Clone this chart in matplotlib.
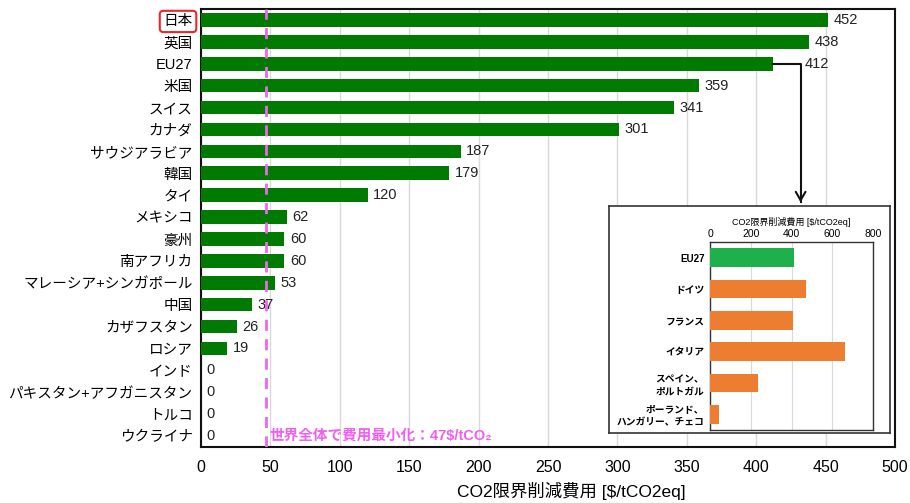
import matplotlib
matplotlib.use("Agg")
import matplotlib.pyplot as plt

plt.rcParams['font.family'] = ['Liberation Sans', 'Noto Sans CJK JP', 'DejaVu Sans']

countries = ['日本', '英国', 'EU27', '米国', 'スイス', 'カナダ', 'サウジアラビア', '韓国',
             'タイ', 'メキシコ', '豪州', '南アフリカ', 'マレーシア+シンガポール', '中国',
             'カザフスタン', 'ロシア', 'インド', 'パキスタン+アフガニスタン', 'トルコ', 'ウクライナ']
costs = [452, 438, 412, 359, 341, 301, 187, 179, 120, 62, 60, 60, 53, 37, 26, 19, 0, 0, 0, 0]
world_min = 47

eu_members = ['EU27', 'ドイツ', 'フランス', 'イタリア', 'スペイン、\nポルトガル', 'ポーランド、\nハンガリー、チェコ']
eu_costs = [410, 469, 407, 663, 238, 44]

fig = plt.figure(figsize=(9.10, 5.03), dpi=100)
ax = fig.add_axes([201/910, 1 - 447/503, 694/910, 438/503])

# x position where the EU27 connector turns down
elbow_x = 432

y = list(range(len(countries)))
ax.barh(y, costs, height=0.62, color='#007a00', zorder=3)
for yi, (name, v) in enumerate(zip(countries, costs)):
    lx = elbow_x + 3 if name == 'EU27' else v + 4
    ax.text(lx, yi, f'{v}', va='center', ha='left', fontsize=10.5, color='#222222', zorder=4)

ax.set_xlim(0, 500)
ax.set_ylim(len(countries) - 0.5, -0.5)
ax.set_yticks(y)
ax.set_yticklabels(countries, fontsize=10.5)
ax.tick_params(axis='y', length=0, pad=6)
ax.set_xticks(range(0, 501, 50))
ax.tick_params(axis='x', length=0, labelsize=11.5, pad=9)
ax.grid(axis='x', color='#d9d9d9', linewidth=1, zorder=0)
for s in ax.spines.values():
    s.set_linewidth(1.5)
    s.set_color('#111111')

# world-wide cost-minimum line
ax.axvline(world_min, color='#ee66ee', linestyle=(0, (4, 3)), linewidth=2, zorder=5)
ax.text(world_min + 2, 19, '世界全体で費用最小化：47$/tCO₂', color='#f060f0',
        fontsize=10.5, fontweight='bold', va='center', ha='left', zorder=6, parse_math=False)

fig.text(571/910, 1 - 491/503, 'CO2限界削減費用 [$/tCO2eq]', ha='center', va='center',
         fontsize=12.5, parse_math=False)

# red box around Japan
jp = ax.get_yticklabels()[0]
jp.set_bbox(dict(boxstyle='round,pad=0.25', facecolor='none', edgecolor='#e8262b', linewidth=1.5))

# connector from EU27 bar to the inset
ax.plot([412, elbow_x, elbow_x], [2, 2, 8.3], color='#111111', linewidth=1.5, zorder=6, clip_on=False)
ax.annotate('', xy=(elbow_x, 8.45), xytext=(elbow_x, 8.0),
            arrowprops=dict(arrowstyle='->,head_length=0.6,head_width=0.35', color='#111111', lw=1.5),
            zorder=6)

# inset frame
frame = fig.add_axes([609/910, 1 - 433/503, 281/910, 227/503])
frame.set_xticks([])
frame.set_yticks([])
frame.set_facecolor('white')
frame.set_zorder(7)
for s in frame.spines.values():
    s.set_linewidth(1.2)
    s.set_color('#333333')

inset = fig.add_axes([710/910, 1 - 430/503, 163/910, 188/503])
inset.set_zorder(8)
iy = list(range(len(eu_members)))
colors = ['#1db04b'] + ['#ed7d31'] * (len(eu_members) - 1)
inset.barh(iy, eu_costs, height=0.6, color=colors, zorder=3)
inset.set_xlim(0, 800)
inset.set_ylim(len(eu_members) - 0.5, -0.5)
inset.set_xticks(range(0, 801, 200))
inset.xaxis.tick_top()
inset.xaxis.set_label_position('top')
inset.tick_params(axis='x', length=0, labelsize=7.5, pad=2)
inset.set_xlabel('CO2限界削減費用 [$/tCO2eq]', fontsize=6.5, labelpad=3)
inset.set_yticks(iy)
inset.set_yticklabels(eu_members, fontsize=7, fontweight='bold', linespacing=1.3)
inset.tick_params(axis='y', length=0, pad=4)
inset.grid(axis='x', color='#d9d9d9', linewidth=0.8, zorder=0)
for s in inset.spines.values():
    s.set_linewidth(1)
    s.set_color('#333333')

fig.savefig('out.png', dpi=100)
